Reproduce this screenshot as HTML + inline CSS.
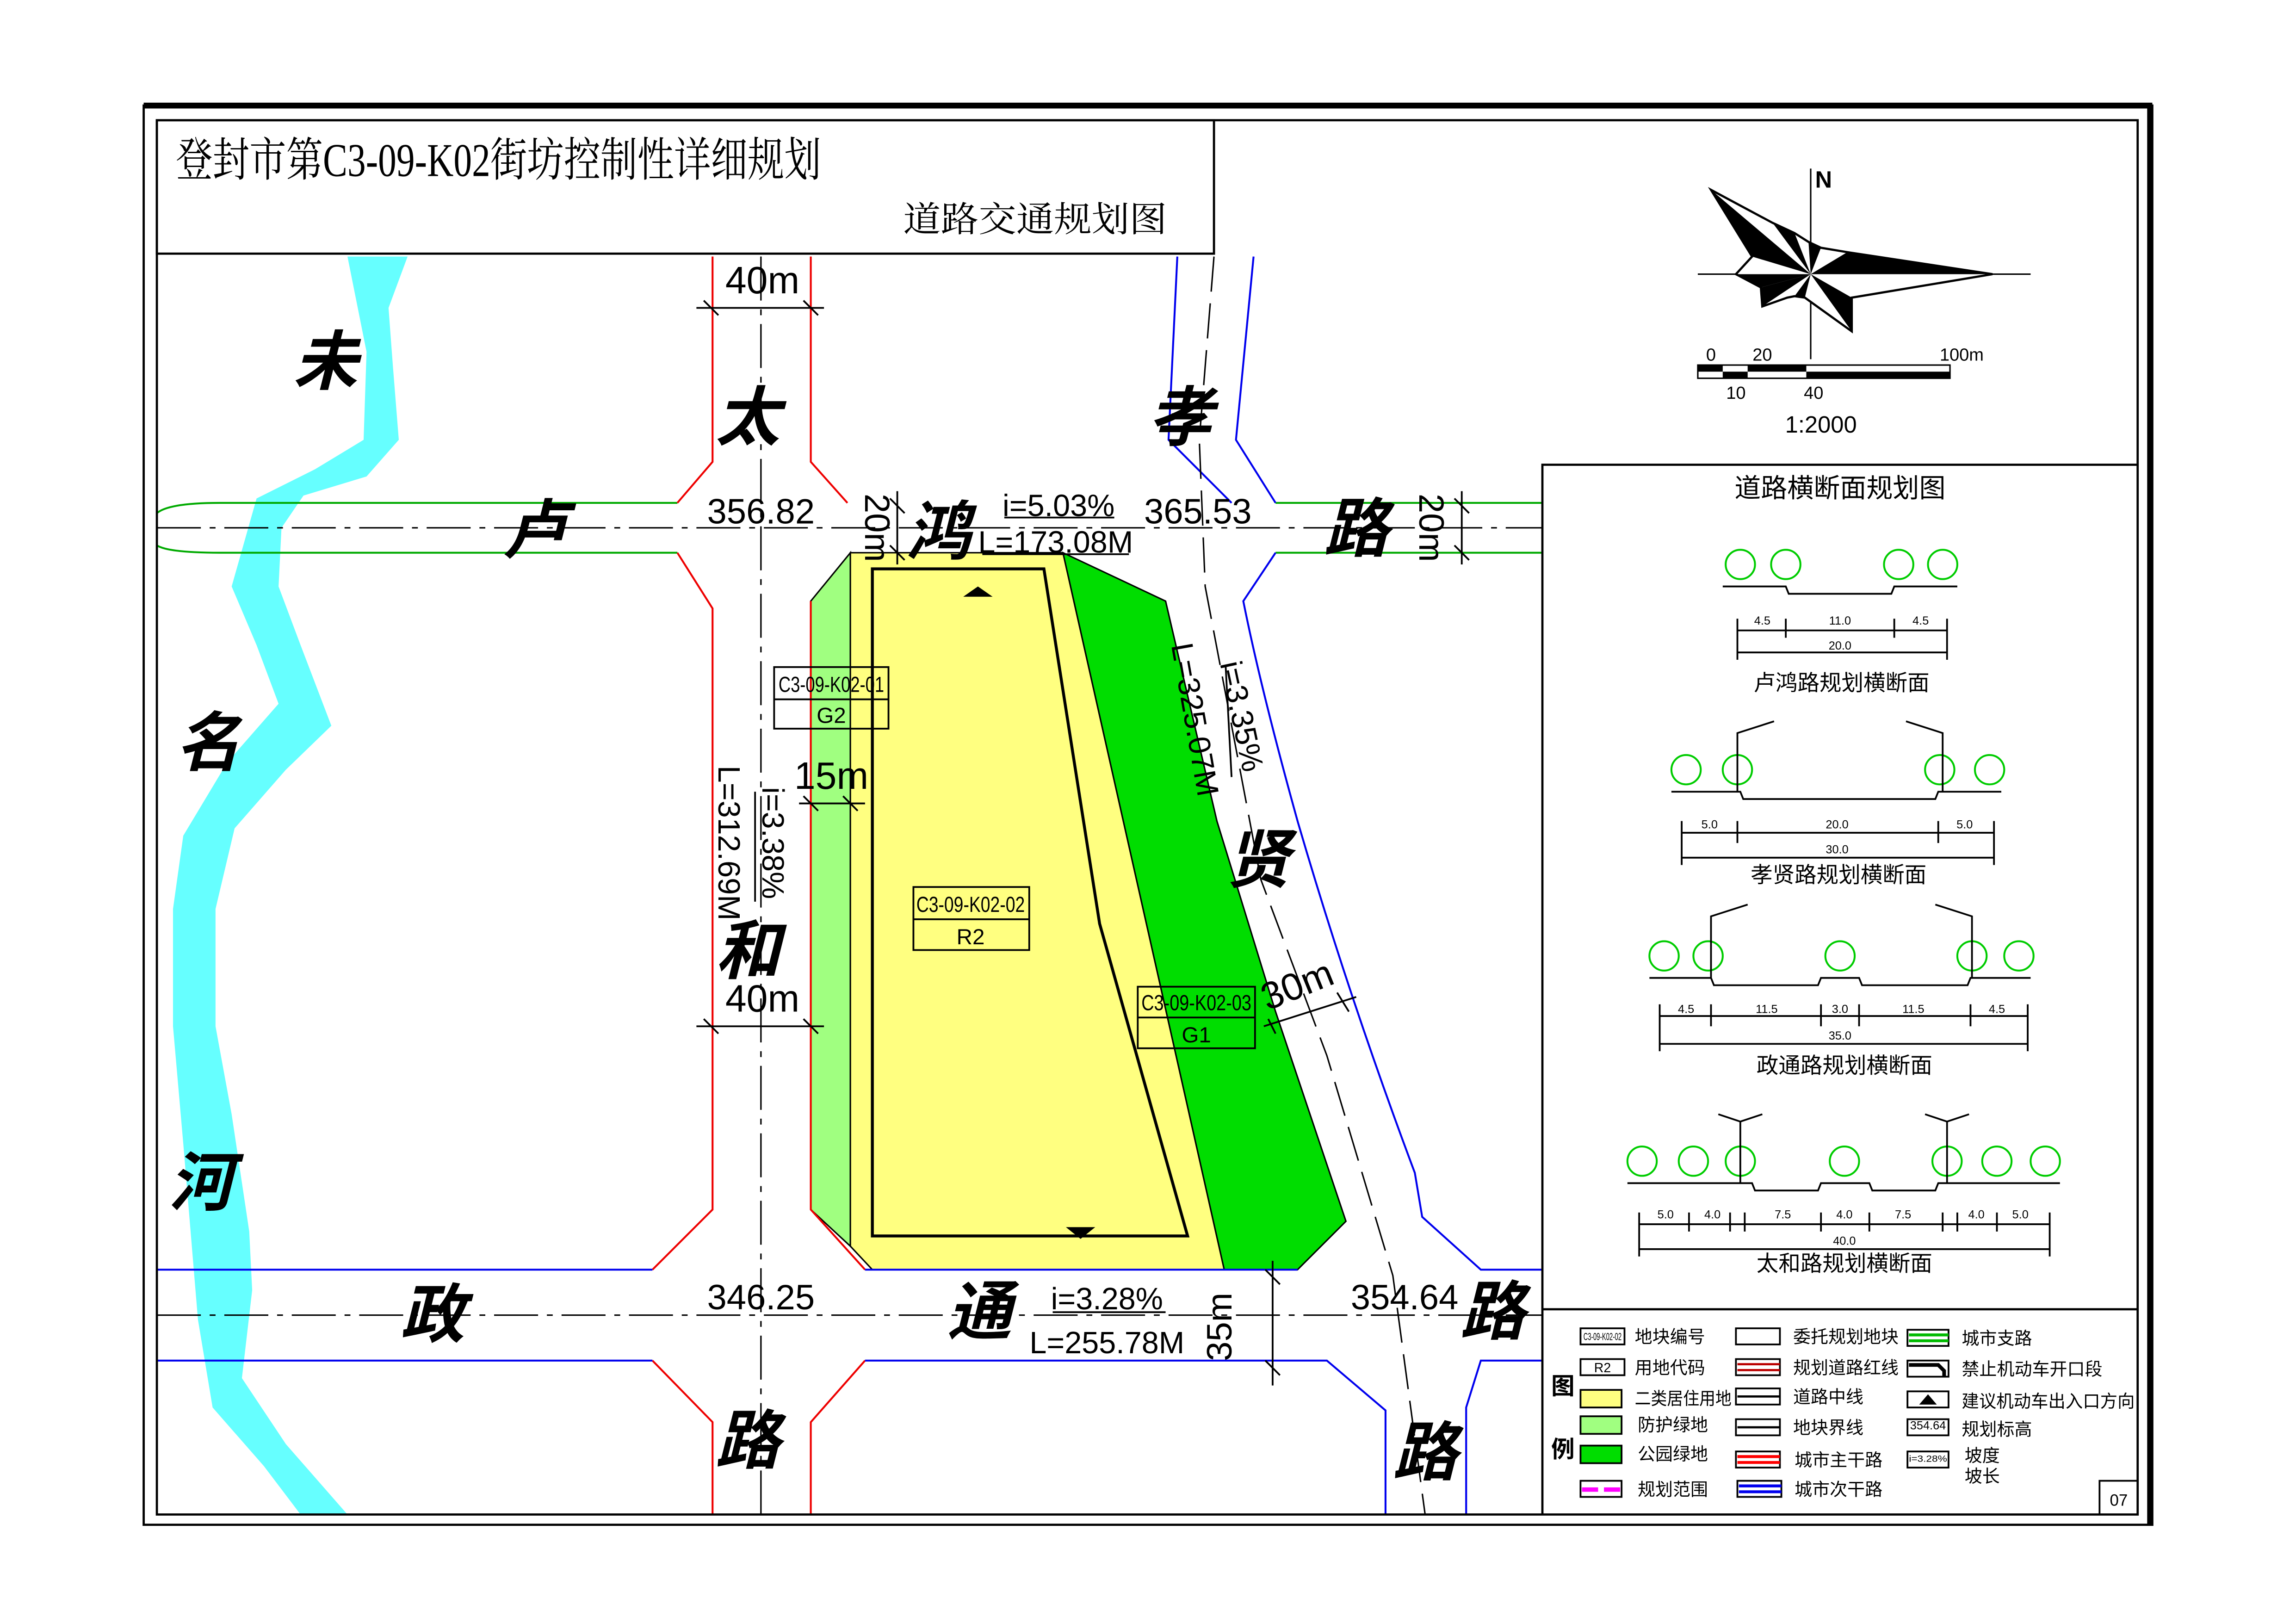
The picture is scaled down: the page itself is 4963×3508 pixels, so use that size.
<!DOCTYPE html>
<html><head><meta charset="utf-8"><style>html,body{margin:0;padding:0;background:#fff}svg{display:block}text{font-family:"Liberation Sans Narrow","Liberation Sans","Noto Sans CJK SC",sans-serif}.cj{font-family:"Liberation Serif","Noto Serif CJK SC","Noto Sans CJK SC",serif}</style></head><body>
<svg xmlns="http://www.w3.org/2000/svg" width="4963" height="3508" viewBox="0 0 1566 1107" preserveAspectRatio="none">
<rect x="0" y="0" width="1566" height="1107" fill="#fff"/>
<polygon fill="#6ff" points="237,175 250,240 248,300 215,320 175,340 158,400 175,440 190,480 155,520 125,570 118,620 118,700 125,780 130,840 135,900 145,960 180,1000 205,1033 237,1033 195,985 165,940 172,880 170,840 158,760 147,700 147,620 160,565 195,525 226,495 205,440 190,400 192,360 207,338 250,325 272,300 268,250 265,210 278,175"/>
<polygon fill="#a0ff80" stroke="#000" stroke-width="1" points="553,410 580,377 580,850 553,825"/>
<polygon fill="#ffff80" stroke="#000" stroke-width="1" points="580,377 725,377 835,866 595,866 580,850"/>
<polygon fill="#00dd00" stroke="#000" stroke-width="1" points="725,377 795,410 830,560 870,690 918,833 885,866 835,866"/>
<path d="M595,388 L712,388 L750,630 L810,843 L595,843 Z" fill="none" stroke="#000" stroke-width="2"/>
<polygon points="657,407 667,400 677,407" fill="#000"/>
<polygon points="727,837 737,845 747,837" fill="#000"/>
<g fill="none" stroke-width="1.3">
<path d="M107,350 Q115,343 150,343 L462,343" stroke="#0a0"/>
<path d="M107,372 Q115,377 150,377 L462,377" stroke="#0a0"/>
<path d="M870,343 L1052,343 M870,377 L1052,377" stroke="#0a0"/>
<path d="M486,175 L486,315 L462,343 M553,175 L553,315 L578,343 M462,377 L486,415 L486,825 L445,866 M553,410 L553,825 L590,866 M445,928 L486,970 L486,1033 M590,928 L553,970 L553,1033" stroke="#e00"/>
<path d="M803,175 L797,300 L840,343 M855,175 L843,300 L870,343 M870,377 L848,410 Q860,470 885,560 Q920,680 965,800 L970,830 L1010,866 L1052,866 M107,866 L445,866 M107,928 L445,928 M590,866 L885,866 M590,928 L905,928 L945,962 L945,1033 M1052,928 L1010,928 L1000,960 L1000,1033" stroke="#00e"/>
</g>
<g fill="none" stroke="#000" stroke-width="1" stroke-dasharray="30 6 4 6">
<path d="M107,360 L1052,360"/><path d="M519,175 L519,1033"/><path d="M107,897 L1052,897"/>
<path d="M828,175 L818,300 L822,400 L860,600 L905,720 L950,870 L972,1033" stroke-dasharray="24 8"/>
</g>
<g stroke="#000" stroke-width="1.2" fill="none">
<path d="M475,210 L562,210 M480,205 L490,215 M548,205 L558,215"/>
<path d="M475,700 L562,700 M480,695 L490,705 M548,695 L558,705"/>
<path d="M545,548 L590,548 M548,543 L558,553 M575,543 L585,553"/>
<path d="M612,335 L612,385 M607,340 L617,350 M607,372 L617,382"/>
<path d="M997,335 L997,385 M992,340 L1002,350 M992,372 L1002,382"/>
<path d="M868,860 L868,945 M863,866 L873,876 M863,928 L873,938"/>
<path d="M862,700 L925,680 M865,695 L870,705 M912,677 L920,690"/>
<path d="M685,353 L760,353 M670,378 L770,378"/>
<path d="M718,895 L795,895"/>
<path d="M515,540 L515,615"/>
<path d="M836,455 L840,530" />
</g>
<g fill="#fff" stroke="#000" stroke-width="1.2">
<rect x="528" y="455" width="78" height="42" fill="none"/><line x1="528" y1="477" x2="606" y2="477"/>
<rect x="623" y="605" width="79" height="43" fill="none"/><line x1="623" y1="627" x2="702" y2="627"/>
<rect x="776" y="673" width="80" height="42" fill="none"/><line x1="776" y1="694" x2="856" y2="694"/>
</g>
<g font-size="15" text-anchor="middle">
<text x="567" y="472" textLength="72" lengthAdjust="spacingAndGlyphs">C3-09-K02-01</text><text x="567" y="493">G2</text>
<text x="662" y="622" textLength="74" lengthAdjust="spacingAndGlyphs">C3-09-K02-02</text><text x="662" y="644">R2</text>
<text x="816" y="689" textLength="75" lengthAdjust="spacingAndGlyphs">C3-09-K02-03</text><text x="816" y="711">G1</text>
</g>
<g class="cj" font-size="44" font-weight="bold" text-anchor="middle" font-style="italic">
<text x="222" y="262">未</text><text x="142" y="522">名</text><text x="137" y="822">河</text>
<text x="365" y="377">卢</text><text x="510" y="300">太</text><text x="640" y="378">鸿</text>
<text x="805" y="300">孝</text><text x="925" y="376">路</text><text x="510" y="664">和</text>
<text x="858" y="602">贤</text><text x="295" y="912">政</text><text x="668" y="910">通</text>
<text x="1018" y="910">路</text><text x="510" y="998">路</text><text x="972" y="1006">路</text>
</g>
<g class="cj" font-size="26" text-anchor="middle">
<text x="520" y="200">40m</text><text x="520" y="690">40m</text><text x="567" y="538">15m</text>
<text x="519" y="357" font-size="24">356.82</text><text x="817" y="357" font-size="24">365.53</text>
<text x="519" y="893" font-size="24">346.25</text><text x="958" y="893" font-size="24">354.64</text>
<text x="722" y="352" font-size="21">i=5.03%</text><text x="720" y="377" font-size="21">L=173.08M</text>
<text x="755" y="893" font-size="21">i=3.28%</text><text x="755" y="923" font-size="21">L=255.78M</text>
<text transform="translate(590,360) rotate(90)" font-size="24">20m</text>
<text transform="translate(968,360) rotate(90)" font-size="24">20m</text>
<text transform="translate(840,905) rotate(-90)" font-size="24">35m</text>
<text transform="translate(888,680) rotate(-22)" font-size="26">30m</text>
<text transform="translate(490,575) rotate(90)" font-size="21">L=312.69M</text>
<text transform="translate(520,575) rotate(90)" font-size="21">i=3.38%</text>
<text transform="translate(808,492) rotate(80)" font-size="21">L=325.07M</text>
<text transform="translate(840,490) rotate(78)" font-size="21">i=3.35%</text>
</g>
<g fill="none" stroke="#000">
<line x1="98" y1="72" x2="1468" y2="72" stroke-width="4"/>
<rect x="98" y="72" width="1370" height="968" stroke-width="1.5"/>
<line x1="1466" y1="72" x2="1466" y2="1040" stroke-width="3"/>
<rect x="107" y="82" width="1351" height="951" stroke-width="1.5"/>
<rect x="107" y="82" width="721" height="91" stroke-width="1.5"/>
<path d="M1052,1033 L1052,317 L1458,317 M1052,893 L1458,893" stroke-width="1.5"/>
<rect x="1432" y="1010" width="26" height="23" stroke-width="1.2"/>
</g>
<rect x="108" y="83" width="719" height="89" fill="#fff"/>
<text class="cj" x="120" y="120" font-size="32" textLength="440" lengthAdjust="spacingAndGlyphs">登封市第C3-09-K02街坊控制性详细规划</text>
<text class="cj" x="616" y="158" font-size="24" textLength="180" lengthAdjust="spacingAndGlyphs">道路交通规划图</text>
<g stroke="#000" stroke-width="1">
<line x1="1235" y1="115" x2="1235" y2="245"/><line x1="1158" y1="187" x2="1385" y2="187"/>
<polygon fill="#fff" stroke-width="1.5" points="1167,129.5 1209,152 1224,159 1233.5,165 1242,169 1260,172 1359,187 1263,203 1263,226 1231,203 1224,202 1219,203 1202,209 1201,196 1184,187 1195,175"/>
<g fill="#000" stroke="none">
<polygon points="1235,187 1167,129.5 1195,175"/><polygon points="1235,187 1209,152 1224,159"/>
<polygon points="1235,187 1233.5,165 1242,169"/><polygon points="1235,187 1260,172 1359,187"/>
<polygon points="1235,187 1263,203 1263,226"/><polygon points="1235,187 1231,203 1224,202"/>
<polygon points="1235,187 1202,209 1201,196"/><polygon points="1235,187 1184,187 1201,196"/>
</g>
</g>
<text x="1238" y="128" font-size="16" font-weight="bold">N</text>
<rect x="1158" y="249" width="172" height="9" fill="#fff" stroke="#000" stroke-width="1"/>
<g fill="#000"><rect x="1158" y="249" width="17" height="4.5"/><rect x="1192" y="249" width="40" height="4.5"/><rect x="1175" y="253.5" width="17" height="4.5"/><rect x="1232" y="253.5" width="98" height="4.5"/></g>
<g class="cj" font-size="12" text-anchor="middle"><text x="1167" y="246">0</text><text x="1202" y="246">20</text><text x="1338" y="246">100m</text><text x="1184" y="272">10</text><text x="1237" y="272">40</text><text x="1242" y="295" font-size="16">1:2000</text></g>
<g class="cj" text-anchor="middle" font-size="15">
<text x="1255" y="339" font-size="18">道路横断面规划图</text>
<text x="1256" y="471">卢鸿路规划横断面</text><text x="1254" y="602">孝贤路规划横断面</text>
<text x="1258" y="732">政通路规划横断面</text><text x="1258" y="867">太和路规划横断面</text>
</g>
<g fill="none" stroke="#0c0" stroke-width="1.3">
<circle cx="1187" cy="385" r="10"/><circle cx="1218" cy="385" r="10"/><circle cx="1295" cy="385" r="10"/><circle cx="1325" cy="385" r="10"/>
<circle cx="1150" cy="525" r="10"/><circle cx="1185" cy="525" r="10"/><circle cx="1323" cy="525" r="10"/><circle cx="1357" cy="525" r="10"/>
<circle cx="1135" cy="652" r="10"/><circle cx="1165" cy="652" r="10"/><circle cx="1255" cy="652" r="10"/><circle cx="1345" cy="652" r="10"/><circle cx="1377" cy="652" r="10"/>
<circle cx="1120" cy="792" r="10"/><circle cx="1155" cy="792" r="10"/><circle cx="1187" cy="792" r="10"/><circle cx="1258" cy="792" r="10"/><circle cx="1328" cy="792" r="10"/><circle cx="1362" cy="792" r="10"/><circle cx="1395" cy="792" r="10"/>
</g>
<g fill="none" stroke="#000" stroke-width="1.2">
<path d="M1175,400 L1218,400 L1220,405 L1290,405 L1292,400 L1335,400"/>
<path d="M1185,430 L1328,430 M1185,445 L1328,445 M1185,422 L1185,450 M1218,422 L1218,435 M1292,422 L1292,435 M1328,422 L1328,450"/>
<path d="M1140,540 L1187,540 L1189,545 L1320,545 L1322,540 L1365,540 M1185,540 L1185,500 L1210,492 M1325,540 L1325,500 L1300,492"/>
<path d="M1147,568 L1360,568 M1147,585 L1360,585 M1147,560 L1147,590 M1185,560 L1185,575 M1322,560 L1322,575 M1360,560 L1360,590"/>
<path d="M1125,667 L1167,667 L1169,672 L1240,672 L1242,667 L1268,667 L1270,672 L1342,672 L1344,667 L1385,667 M1167,667 L1167,625 L1192,617 M1345,667 L1345,625 L1320,617"/>
<path d="M1132,693 L1383,693 M1132,712 L1383,712 M1132,685 L1132,717 M1167,685 L1167,700 M1242,685 L1242,700 M1268,685 L1268,700 M1344,685 L1344,700 M1383,685 L1383,717"/>
<path d="M1110,807 L1195,807 L1197,812 L1240,812 L1242,807 L1275,807 L1277,812 L1320,812 L1322,807 L1405,807 M1187,807 L1187,765 L1172,760 M1187,765 L1202,760 M1328,807 L1328,765 L1313,760 M1328,765 L1343,760"/>
<path d="M1118,835 L1398,835 M1118,852 L1398,852 M1118,827 L1118,857 M1152,827 L1152,840 M1180,827 L1180,840 M1190,827 L1190,840 M1242,827 L1242,840 M1275,827 L1275,840 M1325,827 L1325,840 M1335,827 L1335,840 M1362,827 L1362,840 M1398,827 L1398,857"/>
</g>
<g class="cj" font-size="8" text-anchor="middle">
<text x="1202" y="426">4.5</text><text x="1255" y="426">11.0</text><text x="1310" y="426">4.5</text><text x="1255" y="443">20.0</text>
<text x="1166" y="565">5.0</text><text x="1253" y="565">20.0</text><text x="1340" y="565">5.0</text><text x="1253" y="582">30.0</text>
<text x="1150" y="691">4.5</text><text x="1205" y="691">11.5</text><text x="1255" y="691">3.0</text><text x="1305" y="691">11.5</text><text x="1362" y="691">4.5</text><text x="1255" y="709">35.0</text>
<text x="1136" y="831">5.0</text><text x="1168" y="831">4.0</text><text x="1216" y="831">7.5</text><text x="1258" y="831">4.0</text><text x="1298" y="831">7.5</text><text x="1348" y="831">4.0</text><text x="1378" y="831">5.0</text><text x="1258" y="849">40.0</text>
</g>
<g class="cj" font-size="16" font-weight="bold"><text x="1058" y="951">图</text><text x="1058" y="994">例</text></g>
<g stroke="#000" stroke-width="1.2">
<rect x="1078" y="906" width="30" height="11" fill="#fff"/>
<rect x="1078" y="927" width="30" height="11" fill="#fff"/>
<rect x="1078" y="948" width="28" height="12" fill="#ffff80"/>
<rect x="1078" y="966" width="28" height="12" fill="#a0ff80"/>
<rect x="1078" y="986" width="28" height="12" fill="#00dd00"/>
<rect x="1078" y="1010" width="28" height="11" fill="#fff"/>
<rect x="1184" y="906" width="30" height="11" fill="#fff"/>
<rect x="1184" y="927" width="30" height="11" fill="#fff"/>
<rect x="1184" y="947" width="30" height="11" fill="#fff"/>
<rect x="1184" y="968" width="30" height="11" fill="#fff"/>
<rect x="1184" y="990" width="30" height="11" fill="#fff"/>
<rect x="1185" y="1010" width="30" height="11" fill="#fff"/>
<rect x="1301" y="907" width="28" height="11" fill="#fff"/>
<rect x="1301" y="928" width="28" height="11" fill="#fff"/>
<rect x="1301" y="949" width="28" height="11" fill="#fff"/>
<rect x="1301" y="968" width="28" height="11" fill="#fff"/>
<rect x="1301" y="990" width="28" height="11" fill="#fff"/>
</g>
<g stroke-width="1.5">
<line x1="1079" y1="1016" x2="1090" y2="1016" stroke="#f0f" stroke-width="3"/><line x1="1094" y1="1016" x2="1105" y2="1016" stroke="#f0f" stroke-width="3"/>
<path d="M1185,930.5 L1214,930.5 M1185,934.5 L1214,934.5" stroke="#b00"/>
<path d="M1185,952.5 L1214,952.5" stroke="#000"/>
<path d="M1185,973.5 L1214,973.5" stroke="#000"/>
<path d="M1185,993.5 L1214,993.5 M1185,997.5 L1214,997.5" stroke="#f00" stroke-width="2"/>
<path d="M1186,1013.5 L1215,1013.5 M1186,1017.5 L1215,1017.5" stroke="#00e" stroke-width="2"/>
<path d="M1302,910.5 L1329,910.5 M1302,914.5 L1329,914.5" stroke="#0b0" stroke-width="2"/>
<path d="M1302,931 L1322,931 L1326,935 L1326,939" stroke="#000" stroke-width="2.5" fill="none"/>
</g>
<polygon points="1309,958 1315,951 1321,958" fill="#000"/>
<g font-size="7" text-anchor="middle"><text x="1093" y="914" textLength="26" lengthAdjust="spacingAndGlyphs">C3-09-K02-02</text><text x="1093" y="936" font-size="9">R2</text><text x="1315" y="975" font-size="8">354.64</text><text x="1315" y="997" font-size="6" textLength="26" lengthAdjust="spacingAndGlyphs">i=3.28%</text></g>
<g class="cj" font-size="12">
<text x="1115" y="916">地块编号</text><text x="1115" y="937">用地代码</text><text x="1115" y="958" textLength="66" lengthAdjust="spacingAndGlyphs">二类居住用地</text><text x="1117" y="976">防护绿地</text><text x="1117" y="996">公园绿地</text><text x="1117" y="1020">规划范围</text>
<text x="1223" y="916">委托规划地块</text><text x="1223" y="937">规划道路红线</text><text x="1223" y="957">道路中线</text><text x="1223" y="978">地块界线</text><text x="1224" y="1000">城市主干路</text><text x="1224" y="1020">城市次干路</text>
<text x="1338" y="917">城市支路</text><text x="1338" y="938">禁止机动车开口段</text><text x="1338" y="960" textLength="118" lengthAdjust="spacingAndGlyphs">建议机动车出入口方向</text><text x="1338" y="979">规划标高</text><text x="1340" y="997">坡度</text><text x="1340" y="1011">坡长</text>
<text x="1439" y="1027" font-size="11">07</text>
</g>
</svg>
</body></html>
